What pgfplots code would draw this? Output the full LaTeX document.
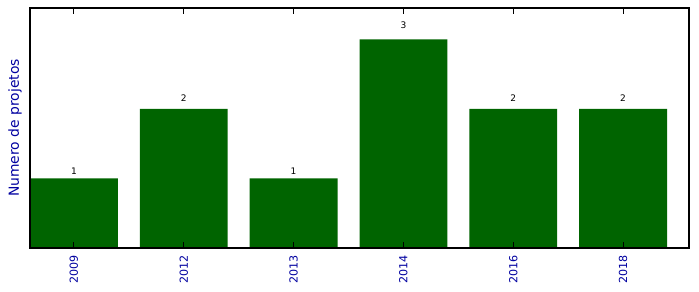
\documentclass[border=0pt]{standalone}
\usepackage{fontspec}
\setmainfont{DejaVu Sans}
\usepackage{pgfplots}
\pgfplotsset{compat=1.18}
\definecolor{bargreen}{RGB}{0,100,0}
\definecolor{lblblue}{RGB}{0,0,160}
\begin{document}
\begin{tikzpicture}
\begin{axis}[name=ax, scale only axis, width=474.48pt, height=172.8pt,
  xmin=-0.4, xmax=5.6, ymin=0, ymax=3.45,
  axis on top,
  axis line style={line width=0.9pt, black},
  xtick={0,1,2,3,4,5},
  xticklabels={2009,2012,2013,2014,2016,2018},
  ytick=\empty,
  tick align=inside,
  xtick pos=both,
  major tick length=4.5pt,
  tick style={black, line width=0.7pt},
  xticklabel style={yshift=-5pt, rotate=90, anchor=east, inner sep=0pt,
    font=\fontsize{8}{9.6}\selectfont, text=lblblue},
  every axis y label/.style={at={(axis description cs:0,0.5)}, xshift=-10.8pt,
    rotate=90, anchor=center, font=\fontsize{10}{12}\selectfont, text=lblblue},
  ylabel={Numero de projetos},
  clip=false,
]
\addplot[ybar, bar width=0.8, fill=bargreen, draw=none]
  coordinates {(0,1) (1,2) (2,1) (3,3) (4,2) (5,2)};
\addplot[draw=none, forget plot, nodes near coords, point meta=explicit symbolic,
  nodes near coords style={anchor=south, inner sep=0pt, font=\fontsize{6.5}{8}\selectfont, text=black}]
  coordinates {(0,1.05)[1] (1,2.1)[2] (2,1.05)[1] (3,3.15)[3] (4,2.1)[2] (5,2.1)[2]};
\end{axis}
\pgfresetboundingbox
\path ([xshift=-21.6pt,yshift=-31.68pt]ax.south west) rectangle ([xshift=7.2pt,yshift=5.76pt]ax.north east);
\end{tikzpicture}
\end{document}
